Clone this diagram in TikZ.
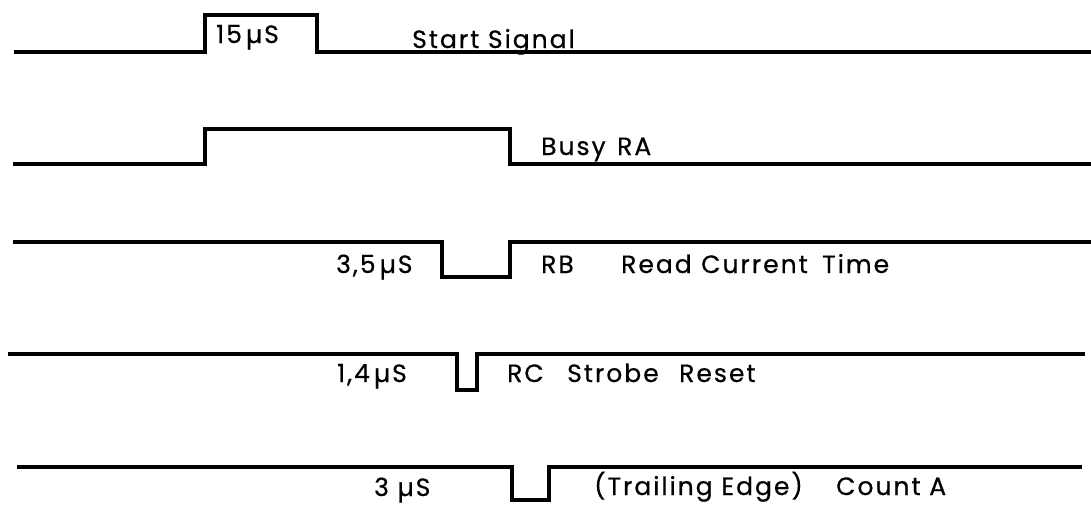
\documentclass[tikz,border=0pt]{standalone}
\usepackage{fontspec}
\setmainfont{Poppins}[LetterSpace=8,FakeBold=0.6]
\begin{document}
\begin{tikzpicture}[x=1pt,y=-1pt,
  wave/.style={line width=3.2pt,line join=miter,line cap=butt},
  lbl/.style={anchor=base west,inner sep=0pt,font=\fontsize{25}{30}\selectfont}]
\useasboundingbox (0,0) rectangle (1091,507);
% waveforms
\draw[wave] (14,52) -- (205,52) -- (205,15) -- (317,15) -- (317,52) -- (1091,52);
\draw[wave] (13,164) -- (205,164) -- (205,129) -- (510,129) -- (510,164) -- (1091,164);
\draw[wave] (13,242) -- (442,242) -- (442,277) -- (510,277) -- (510,242) -- (1091,242);
\draw[wave] (8,354) -- (457,354) -- (457,390) -- (477,390) -- (477,354) -- (1085,354);
\draw[wave] (17,467) -- (512,467) -- (512,500) -- (549,500) -- (549,467) -- (1082,467);
% labels
\node[lbl] (t15) at (216,43) {15\,µS};
\node[lbl] (start) at (412,48) {Start Signal};
\node[lbl] (busy) at (541,155) {Busy};
\node[lbl] (ra) at (617,155) {RA};
\node[lbl] (t35) at (336,273) {3,5\,µS};
\node[lbl] (rb) at (541,273) {RB};
\node[lbl] (read) at (621,273) {Read};
\node[lbl] (current) at (701,273) {Current};
\node[lbl] (time) at (822,273) {Time};
\node[lbl] (t14) at (337,382) {1,4\,µS};
\node[lbl] (rc) at (507,382) {RC};
\node[lbl] (strobe) at (567,382) {Strobe};
\node[lbl] (reset) at (679,382) {Reset};
\node[lbl] (t3) at (374,496) {3 µS};
\node[lbl] (trailing) at (594,495) {(Trailing Edge)};
\node[lbl] (count) at (836,495) {Count A};
\end{tikzpicture}
\end{document}
